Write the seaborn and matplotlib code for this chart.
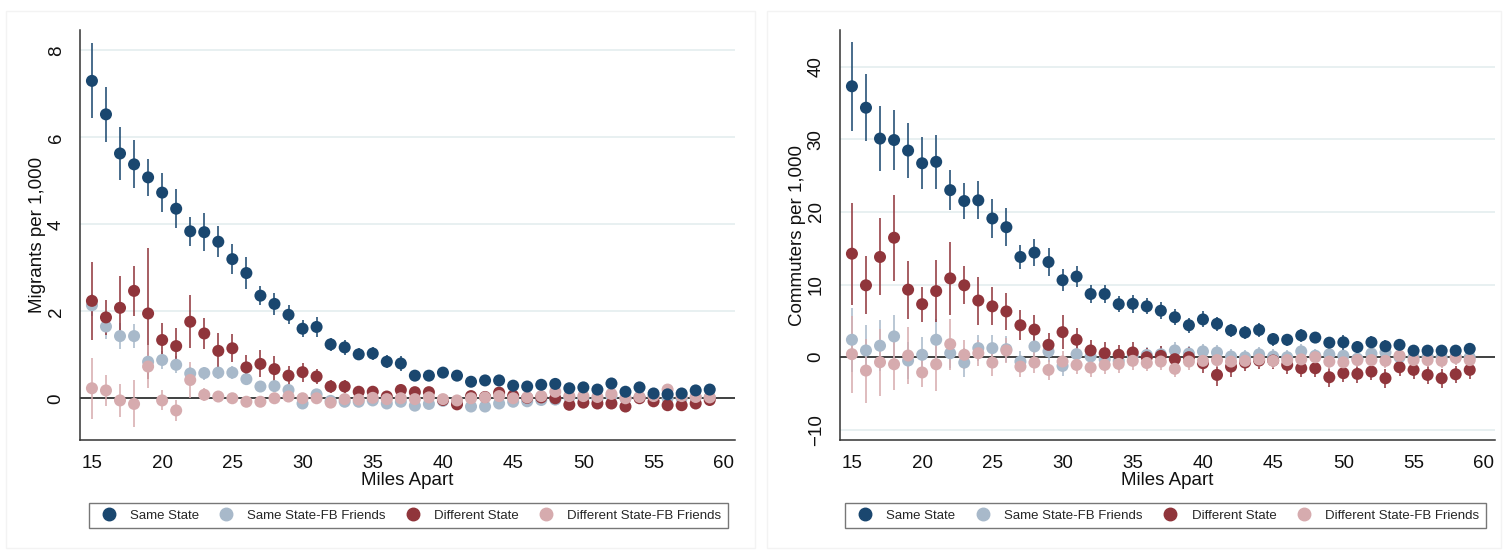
import numpy as np
import pandas as pd
import seaborn as sns
import matplotlib.pyplot as plt
from matplotlib.lines import Line2D
from matplotlib.patches import Rectangle

# ==================================
# Data
# ==================================

miles = np.arange(15, 60)

groups = ["Same State", "Same State-FB Friends", "Different State", "Different State-FB Friends"]
colors = {"Same State": "#1a476f",
          "Same State-FB Friends": "#a8b9ca",
          "Different State": "#90353b",
          "Different State-FB Friends": "#d6abae"}

# Migrants per 1,000
mig_same = [7.30, 6.53, 5.63, 5.38, 5.08, 4.73, 4.36, 3.84, 3.82, 3.60, 3.20, 2.88, 2.36, 2.17, 1.92,
            1.60, 1.64, 1.24, 1.17, 1.01, 1.03, 0.84, 0.80, 0.52, 0.52, 0.59, 0.52, 0.38, 0.41, 0.41,
            0.29, 0.27, 0.31, 0.33, 0.23, 0.25, 0.20, 0.34, 0.15, 0.25, 0.11, 0.09, 0.11, 0.18, 0.20]
mig_same_err = [0.86, 0.63, 0.60, 0.55, 0.43, 0.45, 0.45, 0.33, 0.43, 0.36, 0.34, 0.36, 0.22, 0.25, 0.22,
                0.20, 0.22, 0.15, 0.17, 0.14, 0.16, 0.15, 0.17, 0.12, 0.12, 0.11, 0.10, 0.09, 0.10, 0.09,
                0.08, 0.08, 0.09, 0.09, 0.08, 0.09, 0.08, 0.10, 0.09, 0.09, 0.08, 0.08, 0.08, 0.08, 0.09]
mig_same_fb = [2.14, 1.65, 1.43, 1.43, 0.84, 0.88, 0.77, 0.57, 0.58, 0.59, 0.59, 0.44, 0.27, 0.28, 0.19,
               -0.12, 0.09, -0.06, -0.08, -0.08, -0.05, -0.12, -0.08, -0.17, -0.13, -0.06, -0.10, -0.19, -0.19, -0.12,
               -0.08, -0.07, -0.04, -0.03, 0.02, 0.00, -0.02, 0.05, 0.00, 0.02, 0.05, 0.00, 0.00, 0.02, 0.02]
mig_same_fb_err = [0.25, 0.28, 0.30, 0.28, 0.22, 0.20, 0.20, 0.15, 0.15, 0.15, 0.15, 0.13, 0.12, 0.12, 0.10,
                   0.09, 0.09, 0.08, 0.08, 0.08, 0.08, 0.08, 0.08, 0.08, 0.08, 0.08, 0.08, 0.08, 0.08, 0.08,
                   0.08, 0.08, 0.08, 0.08, 0.08, 0.08, 0.08, 0.08, 0.08, 0.08, 0.08, 0.08, 0.08, 0.08, 0.08]
mig_diff = [2.24, 1.86, 2.08, 2.47, 1.95, 1.34, 1.20, 1.76, 1.49, 1.09, 1.15, 0.71, 0.79, 0.67, 0.52,
            0.60, 0.50, 0.27, 0.27, 0.15, 0.15, 0.04, 0.19, 0.14, 0.14, -0.04, -0.14, 0.05, 0.03, 0.13,
            0.06, 0.01, 0.02, 0.00, -0.15, -0.10, -0.12, -0.12, -0.19, 0.00, -0.07, -0.16, -0.16, -0.12, -0.04]
mig_diff_err = [0.90, 0.41, 0.73, 0.57, 1.50, 0.39, 0.41, 0.61, 0.35, 0.40, 0.32, 0.28, 0.31, 0.30, 0.22,
                0.22, 0.18, 0.15, 0.15, 0.13, 0.13, 0.12, 0.12, 0.11, 0.11, 0.10, 0.10, 0.10, 0.10, 0.10,
                0.09, 0.09, 0.09, 0.09, 0.10, 0.09, 0.09, 0.09, 0.10, 0.09, 0.09, 0.10, 0.09, 0.09, 0.09]
mig_diff_fb = [0.23, 0.18, -0.05, -0.13, 0.73, -0.05, -0.28, 0.42, 0.08, 0.04, 0.00, -0.08, -0.08, 0.00, 0.04,
               0.00, 0.00, -0.10, -0.02, -0.03, 0.01, -0.02, 0.00, -0.02, 0.02, -0.02, -0.05, 0.00, 0.02, 0.05,
               0.00, 0.02, 0.05, 0.15, 0.05, 0.05, 0.03, 0.10, 0.00, 0.03, 0.05, 0.20, 0.05, 0.03, 0.02]
mig_diff_fb_err = [0.70, 0.36, 0.38, 0.54, 0.50, 0.23, 0.25, 0.42, 0.15, 0.13, 0.12, 0.12, 0.12, 0.10, 0.10,
                   0.10, 0.10, 0.10, 0.10, 0.10, 0.10, 0.10, 0.10, 0.10, 0.10, 0.10, 0.10, 0.10, 0.10, 0.10,
                   0.10, 0.10, 0.10, 0.10, 0.10, 0.10, 0.10, 0.10, 0.10, 0.10, 0.10, 0.10, 0.10, 0.10, 0.10]

# Commuters per 1,000
com_same = [37.3, 34.35, 30.1, 29.9, 28.45, 26.7, 26.9, 23.0, 21.5, 21.6, 19.1, 17.9, 13.8, 14.4, 13.1,
            10.6, 11.1, 8.7, 8.7, 7.3, 7.35, 7.0, 6.4, 5.5, 4.4, 5.2, 4.6, 3.7, 3.4, 3.75,
            2.5, 2.4, 3.0, 2.7, 2.0, 2.05, 1.4, 2.05, 1.5, 1.7, 0.9, 0.9, 0.9, 0.9, 1.15]
com_same_err = [6.1, 4.65, 4.5, 4.15, 3.8, 3.55, 3.7, 2.8, 2.5, 2.6, 2.65, 2.6, 1.65, 1.9, 1.9,
                1.5, 1.5, 1.3, 1.3, 1.1, 1.2, 1.1, 1.2, 1.1, 1.0, 1.1, 1.0, 0.9, 0.9, 1.0,
                0.9, 0.8, 0.9, 0.8, 0.8, 1.0, 0.8, 0.9, 0.8, 0.8, 0.7, 0.8, 0.8, 0.7, 0.8]
com_same_fb = [2.4, 0.93, 1.58, 2.86, -0.46, 0.33, 2.4, 0.55, -0.74, 1.25, 1.25, 1.1, -0.6, 1.48, 0.8,
               -1.2, 0.42, 0.1, -0.3, -0.5, 0.2, 0.3, 0.4, 0.93, 0.5, 0.8, 0.65, 0.1, 0.0, 0.4,
               0.1, 0.0, 0.8, 0.2, 0.4, 0.2, -0.2, 0.5, 0.65, 0.0, 0.0, 0.1, 0.0, 0.1, 0.0]
com_same_fb_err = [4.4, 3.5, 3.5, 3.0, 2.5, 2.5, 2.8, 2.0, 2.0, 1.8, 1.8, 1.8, 1.5, 1.5, 1.5,
                   1.4, 1.4, 1.3, 1.2, 1.2, 1.2, 1.1, 1.1, 1.1, 1.1, 1.0, 1.0, 1.0, 1.0, 1.0,
                   1.0, 1.0, 1.0, 0.9, 0.9, 0.9, 0.9, 0.9, 0.9, 0.9, 0.9, 0.9, 0.9, 0.9, 0.9]
com_diff = [14.25, 9.9, 13.8, 16.45, 9.3, 7.3, 9.1, 10.85, 9.9, 7.8, 7.0, 6.3, 4.4, 3.8, 1.7,
            3.45, 2.4, 0.93, 0.55, 0.33, 0.65, 0.0, 0.18, -0.27, 0.0, -0.83, -2.44, -1.29, -0.73, -0.46,
            -0.46, -1.06, -1.52, -1.52, -2.76, -2.2, -2.3, -1.98, -2.9, -1.38, -1.75, -2.44, -2.9, -2.35, -1.75]
com_diff_err = [7.0, 4.0, 5.3, 5.9, 4.0, 2.4, 4.3, 5.0, 2.6, 3.3, 2.6, 2.6, 2.1, 2.0, 1.6,
                2.3, 1.6, 1.5, 1.5, 1.4, 1.5, 1.3, 1.3, 1.3, 1.4, 1.3, 1.5, 1.4, 1.2, 1.2,
                1.2, 1.2, 1.2, 1.2, 1.3, 1.2, 1.2, 1.2, 1.3, 1.2, 1.2, 1.2, 1.3, 1.2, 1.2]
com_diff_fb = [0.42, -1.84, -0.69, -0.97, 0.23, -2.1, -0.97, 1.8, 0.33, 0.55, -0.74, 0.92, -1.29, -0.74, -1.75,
               -0.6, -1.06, -1.43, -1.06, -0.92, -0.5, -0.8, -0.6, -1.6, -0.6, -0.5, -0.4, -0.6, -0.5, -0.3,
               -0.5, -0.4, -0.3, 0.0, -0.6, -0.7, -0.4, -0.4, -0.5, 0.2, -0.4, -0.4, -0.5, -0.1, -0.4]
com_diff_fb_err = [5.3, 4.4, 4.6, 3.6, 3.9, 2.0, 3.7, 3.5, 2.0, 1.8, 1.8, 1.7, 1.5, 1.5, 1.4,
                   1.4, 1.3, 1.3, 1.2, 1.2, 1.2, 1.1, 1.1, 1.1, 1.1, 1.0, 1.0, 1.0, 1.0, 1.0,
                   1.0, 1.0, 1.0, 1.0, 1.0, 1.0, 1.0, 1.0, 1.0, 1.0, 1.0, 1.0, 1.0, 1.0, 1.0]


def make_long(series):
    # series: dict group -> (values, errors); order here = drawing order
    frames = []
    for g, (v, e) in series.items():
        frames.append(pd.DataFrame({"miles": miles, "value": v, "err": e, "group": g}))
    return pd.concat(frames, ignore_index=True)


mig_df = make_long({"Same State-FB Friends": (mig_same_fb, mig_same_fb_err),
                    "Different State": (mig_diff, mig_diff_err),
                    "Different State-FB Friends": (mig_diff_fb, mig_diff_fb_err),
                    "Same State": (mig_same, mig_same_err)})
com_df = make_long({"Same State-FB Friends": (com_same_fb, com_same_fb_err),
                    "Different State": (com_diff, com_diff_err),
                    "Different State-FB Friends": (com_diff_fb, com_diff_fb_err),
                    "Same State": (com_same, com_same_err)})

# ==================================
# Figure
# ==================================

sns.set_style("white")
plt.rcParams['font.family'] = ['Liberation Sans', 'DejaVu Sans']

W, H = 1507, 550
fig = plt.figure(figsize=(W / 100, H / 100), dpi=100)

# faint panel frames like the combined Stata graph
for x0, x1 in [(6, 755), (767, 1501)]:
    fig.add_artist(Rectangle((x0 / W, 2 / H), (x1 - x0) / W, (539 - 2) / H,
                             transform=fig.transFigure, fill=False, ec='#f3f3f3', lw=1))

ax1 = fig.add_axes([80 / W, 1 - 440 / H, 655 / W, 410 / H])
ax2 = fig.add_axes([840 / W, 1 - 440 / H, 655 / W, 410 / H])

panels = [(ax1, mig_df, "Migrants per 1,000", [0, 2, 4, 6, 8], (-0.96, 8.47), 89, 728),
          (ax2, com_df, "Commuters per 1,000", [-10, 0, 10, 20, 30, 40], (-11.4, 45.05), 845, 1486)]

for ax, df, ylab, yticks, ylim, lx0, lx1 in panels:
    ax.set_yticks(yticks)
    ax.yaxis.grid(True, color='#e4edef', lw=1.2)
    ax.xaxis.grid(False)
    ax.axhline(0, color='#333333', lw=1.3, zorder=1)

    for g in df["group"].unique():
        sub = df[df["group"] == g]
        ax.vlines(sub["miles"], sub["value"] - sub["err"], sub["value"] + sub["err"],
                  color=colors[g], alpha=0.8, lw=1.4, zorder=2)

    sns.scatterplot(data=df, x="miles", y="value", hue="group", palette=colors,
                    s=75, edgecolor='none', linewidth=0, alpha=1.0, legend=False,
                    ax=ax, zorder=3)

    ax.set_xlim(14.15, 60.8)
    ax.set_ylim(*ylim)
    ax.set_xticks([15, 20, 25, 30, 35, 40, 45, 50, 55, 60])
    sns.despine(ax=ax)
    for side in ["left", "bottom"]:
        ax.spines[side].set_color('#333333')
        ax.spines[side].set_linewidth(1.1)
    ax.tick_params(axis='both', which='major', length=7, width=1, color='#333333',
                   labelsize=13.5, labelcolor='#111111', direction='out', pad=4)
    ax.tick_params(axis='y', labelrotation=90)
    for lbl in ax.get_yticklabels():
        lbl.set_va('center')
    ax.set_xlabel("Miles Apart", fontsize=13.5, labelpad=0, color='#111111')
    ax.set_ylabel(ylab, fontsize=13.5, labelpad=1, color='#111111')

    handles = [Line2D([], [], marker='o', ls='', color=colors[g], markersize=9) for g in groups]
    leg = ax.legend(handles, groups, loc='center', ncol=4, mode='expand',
                    bbox_to_anchor=(lx0 / W, 1 - 530 / H, (lx1 - lx0) / W, 29 / H),
                    bbox_transform=fig.transFigure, frameon=True, fancybox=False,
                    edgecolor='#555555', fontsize=9.5, handletextpad=0.6,
                    borderpad=0.5, borderaxespad=0)
    leg.get_frame().set_linewidth(1.0)

fig.savefig("out.png", dpi=100)
